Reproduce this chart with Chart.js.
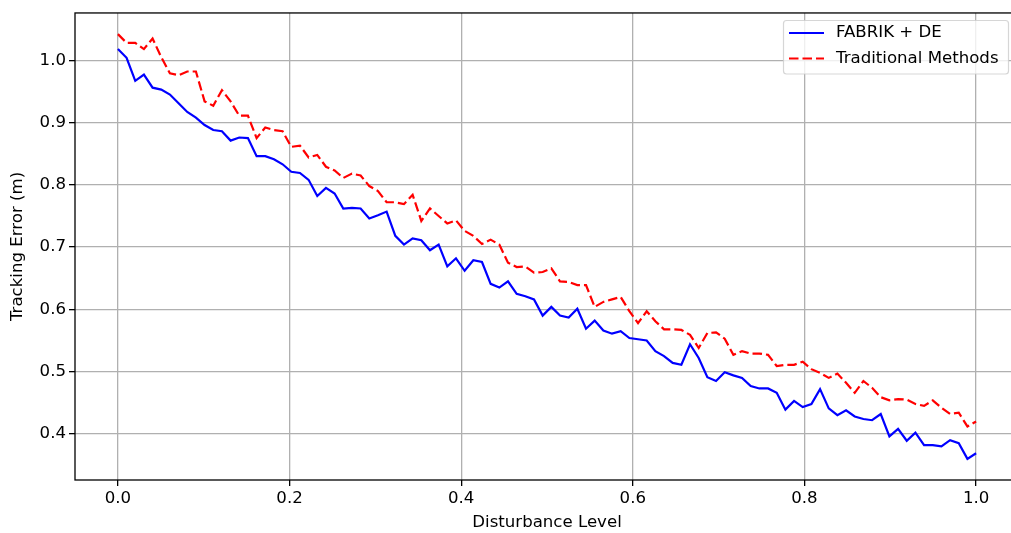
<!DOCTYPE html>
<html>
<head>
<meta charset="utf-8">
<script src="https://cdn.jsdelivr.net/npm/chart.js@4.4.1/dist/chart.umd.min.js"></script>
<style>
  html, body { margin: 0; padding: 0; background: #ffffff; overflow: hidden; }
  canvas { display: block; }
</style>
</head>
<body>
<canvas id="c" width="1040" height="533"></canvas>
<script>
// ---- data ----
const seriesNames = ['FABRIK + DE', 'Traditional Methods'];
const pointCount = 100; // disturbance levels 0 .. 1, evenly spaced
const fabrikDE = [
  1.018, 1.004, 0.967, 0.977, 0.956, 0.953, 0.945, 0.931, 0.917, 0.908,
  0.896, 0.888, 0.886, 0.871, 0.876, 0.875, 0.846, 0.846, 0.841, 0.833,
  0.821, 0.819, 0.808, 0.782, 0.795, 0.786, 0.762, 0.763, 0.762, 0.746,
  0.751, 0.757, 0.718, 0.704, 0.714, 0.711, 0.695, 0.704, 0.669, 0.682,
  0.662, 0.679, 0.676, 0.641, 0.635, 0.645, 0.625, 0.621, 0.616, 0.590,
  0.604, 0.590, 0.587, 0.601, 0.569, 0.582, 0.566, 0.561, 0.565, 0.554,
  0.552, 0.550, 0.533, 0.525, 0.514, 0.511, 0.544, 0.522, 0.491, 0.485,
  0.499, 0.494, 0.490, 0.477, 0.473, 0.473, 0.466, 0.439, 0.453, 0.443,
  0.448, 0.472, 0.441, 0.430, 0.438, 0.428, 0.424, 0.422, 0.432, 0.396,
  0.408, 0.389, 0.402, 0.382, 0.382, 0.380, 0.390, 0.385, 0.360, 0.369
];
const traditional = [
  1.042, 1.028, 1.028, 1.018, 1.035, 1.005, 0.979, 0.976, 0.982, 0.982,
  0.934, 0.927, 0.952, 0.934, 0.911, 0.911, 0.875, 0.892, 0.888, 0.886,
  0.861, 0.863, 0.844, 0.848, 0.829, 0.823, 0.811, 0.818, 0.815, 0.798,
  0.790, 0.772, 0.772, 0.769, 0.784, 0.742, 0.762, 0.750, 0.738, 0.743,
  0.726, 0.718, 0.705, 0.712, 0.704, 0.675, 0.668, 0.669, 0.659, 0.660,
  0.666, 0.645, 0.644, 0.639, 0.639, 0.604, 0.612, 0.616, 0.620, 0.597,
  0.578, 0.597, 0.581, 0.568, 0.568, 0.567, 0.559, 0.538, 0.562, 0.563,
  0.553, 0.527, 0.533, 0.529, 0.529, 0.527, 0.509, 0.511, 0.511, 0.516,
  0.504, 0.498, 0.490, 0.497, 0.482, 0.466, 0.485, 0.474, 0.459, 0.454,
  0.456, 0.455, 0.448, 0.445, 0.454, 0.442, 0.432, 0.434, 0.412, 0.420
];
const xTicks = [0.0, 0.2, 0.4, 0.6, 0.8, 1.0];
const yTicks = [0.4, 0.5, 0.6, 0.7, 0.8, 0.9, 1.0];
const xTitle = 'Disturbance Level';
const yTitle = 'Tracking Error (m)';

// disturbance levels (evenly spaced from 0 to 1)
const levels = Array.from({length: pointCount}, (_, i) => i / (pointCount - 1));
const toPoints = (vals) => vals.map((v, i) => ({x: levels[i], y: v}));

const FONT = 'DejaVu Sans';
const FS = 16.6;
const DASH = [9.5, 4];
const LW = 2.2;

const framePlugin = {
  id: 'frame',
  afterDatasetsDraw(chart) {
    const {ctx, chartArea: a} = chart;
    ctx.save();
    ctx.strokeStyle = '#000';
    ctx.lineWidth = 1.3;
    ctx.strokeRect(a.left, a.top, a.right - a.left, a.bottom - a.top);
    ctx.restore();
  }
};

const legendPlugin = {
  id: 'mplLegend',
  afterDraw(chart) {
    const ctx = chart.ctx;
    const x0 = 783.5, y0 = 20.5, w = 225, h = 53.5, r = 3;
    ctx.save();
    ctx.beginPath();
    ctx.moveTo(x0 + r, y0);
    ctx.lineTo(x0 + w - r, y0);
    ctx.arcTo(x0 + w, y0, x0 + w, y0 + r, r);
    ctx.lineTo(x0 + w, y0 + h - r);
    ctx.arcTo(x0 + w, y0 + h, x0 + w - r, y0 + h, r);
    ctx.lineTo(x0 + r, y0 + h);
    ctx.arcTo(x0, y0 + h, x0, y0 + h - r, r);
    ctx.lineTo(x0, y0 + r);
    ctx.arcTo(x0, y0, x0 + r, y0, r);
    ctx.closePath();
    ctx.fillStyle = 'rgba(255,255,255,0.8)';
    ctx.fill();
    ctx.strokeStyle = 'rgba(204,204,204,0.8)';
    ctx.lineWidth = 1.2;
    ctx.stroke();

    const items = chart.data.datasets;
    const rows = [33, 58.5];
    items.forEach((ds, i) => {
      const y = rows[i];
      ctx.beginPath();
      ctx.setLineDash(ds.borderDash || []);
      ctx.strokeStyle = ds.borderColor;
      ctx.lineWidth = ds.borderWidth;
      ctx.moveTo(789, y);
      ctx.lineTo(824, y);
      ctx.stroke();
      ctx.setLineDash([]);
      ctx.fillStyle = '#000';
      ctx.font = FS + 'px "' + FONT + '"';
      ctx.textBaseline = 'middle';
      ctx.textAlign = 'left';
      ctx.fillText(ds.label, 836, y);
    });
    ctx.restore();
  }
};

Chart.defaults.font.family = FONT;
Chart.defaults.font.size = FS;
Chart.defaults.color = '#000';

new Chart(document.getElementById('c'), {
  type: 'line',
  data: {
    datasets: [
      {
        label: seriesNames[0],
        data: toPoints(fabrikDE),
        borderColor: '#0000ff',
        borderWidth: LW,
        pointRadius: 0,
        tension: 0,
        fill: false
      },
      {
        label: seriesNames[1],
        data: toPoints(traditional),
        borderColor: '#ff0000',
        borderWidth: LW,
        borderDash: DASH,
        pointRadius: 0,
        tension: 0,
        fill: false
      }
    ]
  },
  options: {
    responsive: false,
    animation: false,
    devicePixelRatio: 1,
    layout: { padding: { left: 0, top: 11, right: 21, bottom: 0 } },
    plugins: {
      legend: { display: false },
      tooltip: { enabled: false },
      title: { display: false }
    },
    scales: {
      x: {
        type: 'linear',
        min: -0.05,
        max: 1.05,
        afterBuildTicks: (s) => { s.ticks = xTicks.map(v => ({value: v})); },
        afterFit: (s) => { s.height = 53; },
        ticks: {
          callback: (v) => Number(v).toFixed(1),
          padding: 3,
          color: '#000',
          maxRotation: 0,
          autoSkip: false,
          font: { size: FS, family: FONT }
        },
        grid: {
          color: '#b0b0b0',
          lineWidth: 1.3,
          tickColor: '#000',
          tickLength: 6,
          drawTicks: true
        },
        border: { display: false },
        title: {
          display: true,
          text: xTitle,
          color: '#000',
          font: { size: FS, family: FONT },
          padding: { top: 0, bottom: 0 }
        }
      },
      y: {
        type: 'linear',
        min: 0.326,
        max: 1.076,
        afterBuildTicks: (s) => { s.ticks = yTicks.map(v => ({value: v})); },
        afterFit: (s) => { s.width = 75; },
        ticks: {
          callback: (v) => Number(v).toFixed(1),
          padding: 3,
          color: '#000',
          autoSkip: false,
          font: { size: FS, family: FONT }
        },
        grid: {
          color: '#b0b0b0',
          lineWidth: 1.3,
          tickColor: '#000',
          tickLength: 6,
          drawTicks: true
        },
        border: { display: false },
        title: {
          display: true,
          text: yTitle,
          color: '#000',
          font: { size: FS, family: FONT },
          padding: { top: 8, bottom: 0 }
        }
      }
    }
  },
  plugins: [framePlugin, legendPlugin]
});
</script>
</body>
</html>
